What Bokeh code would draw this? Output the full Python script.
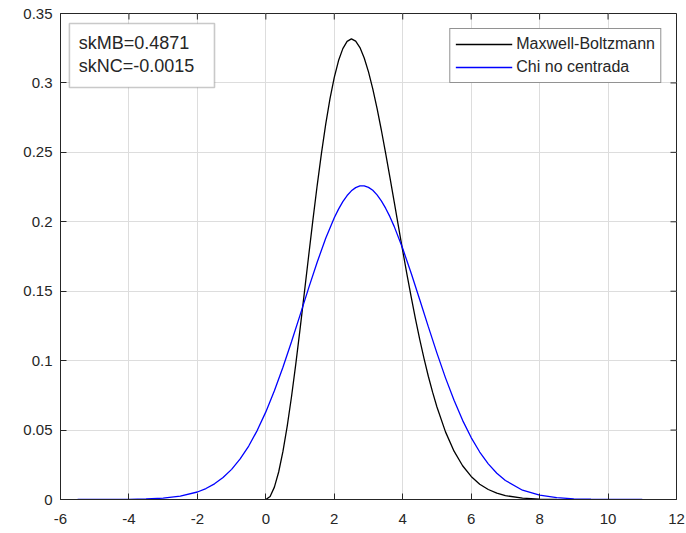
from bokeh.plotting import figure
from bokeh.models import (Range1d, FixedTicker, Legend, LegendItem, Label,
                          BoxAnnotation)
from bokeh.embed import file_html
from bokeh.resources import INLINE

# Maxwell-Boltzmann density
x_mb = [0, 0.125, 0.25, 0.375, 0.5, 0.625, 0.75, 0.875, 1.0, 1.125, 1.25,
        1.375, 1.5, 1.625, 1.75, 1.875, 2.0, 2.125, 2.25, 2.375, 2.5, 2.625,
        2.75, 2.875, 3.0, 3.125, 3.25, 3.375, 3.5, 3.625, 3.75, 3.875, 4.0,
        4.125, 4.25, 4.375, 4.5, 4.625, 4.75, 4.875, 5.0, 5.25, 5.5, 5.75,
        6.0, 6.25, 6.5, 6.75, 7.0, 7.5, 8.0, 8.5]
y_mb = [0.0, 0.0022, 0.0089, 0.0198, 0.0346, 0.0528, 0.0740, 0.0975, 0.1227,
        0.1488, 0.1752, 0.2012, 0.2261, 0.2493, 0.2703, 0.2887, 0.3040,
        0.3161, 0.3247, 0.3299, 0.3317, 0.3301, 0.3255, 0.3180, 0.3080,
        0.2957, 0.2816, 0.2661, 0.2495, 0.2322, 0.2145, 0.1967, 0.1791,
        0.1620, 0.1455, 0.1298, 0.1150, 0.1013, 0.0886, 0.0771, 0.0666,
        0.0487, 0.0348, 0.0243, 0.0166, 0.0110, 0.0072, 0.0046, 0.0028,
        0.0010, 0.0003, 0.0001]

# Non-centred chi density
x_chi = [-5.5, -5, -4.5, -4, -3.5, -3, -2.5, -2, -1.75, -1.5, -1.25, -1,
         -0.75, -0.5, -0.25, 0, 0.25, 0.5, 0.75, 1, 1.25, 1.5, 1.75, 2, 2.125,
         2.25, 2.375, 2.5, 2.625, 2.75, 2.875, 3, 3.125, 3.25, 3.375, 3.5,
         3.625, 3.75, 4, 4.25, 4.5, 4.75, 5, 5.25, 5.5, 5.75, 6, 6.25, 6.5,
         6.75, 7, 7.5, 8, 8.5, 9, 9.5, 10, 10.5, 11]
y_chi = [0.0, 0.00001, 0.00004, 0.00013, 0.00037, 0.00098, 0.0024, 0.0054,
         0.0079, 0.0113, 0.0158, 0.0217, 0.0292, 0.0385, 0.0498, 0.0631,
         0.0783, 0.0953, 0.1136, 0.1328, 0.1522, 0.1709, 0.1881, 0.2029,
         0.2091, 0.2145, 0.2189, 0.2223, 0.2246, 0.2258, 0.2259, 0.2248,
         0.2227, 0.2194, 0.2151, 0.2098, 0.2037, 0.1967, 0.1807, 0.1628,
         0.1437, 0.1243, 0.1054, 0.0876, 0.0714, 0.0570, 0.0446, 0.0342,
         0.0257, 0.0189, 0.0137, 0.0067, 0.0031, 0.0013, 0.0005, 0.0002,
         0.00006, 0.00002, 0.0]

series_names = ["Maxwell-Boltzmann", "Chi no centrada"]
skew_lines = ["skMB=0.4871", "skNC=-0.0015"]

x_ticks = [-6, -4, -2, 0, 2, 4, 6, 8, 10, 12]
y_ticks = [0, 0.05, 0.1, 0.15, 0.2, 0.25, 0.3, 0.35]
y_tick_labels = ["0", "0.05", "0.1", "0.15", "0.2", "0.25", "0.3", "0.35"]

FONT = "Liberation Sans"
AX = "#262626"
X0, X1, Y0, Y1 = -6, 12, 0, 0.35

p = figure(width=686, height=533, output_backend="svg", toolbar_location=None,
           x_range=Range1d(X0, X1), y_range=Range1d(Y0, Y1),
           min_border_left=60, min_border_right=10, min_border_top=13,
           min_border_bottom=34, background_fill_color="white",
           border_fill_color="white")
p.outline_line_color = AX
p.outline_line_width = 1

p.xaxis.ticker = FixedTicker(ticks=x_ticks)
p.yaxis.ticker = FixedTicker(ticks=y_ticks)
p.yaxis.major_label_overrides = {t: s for t, s in zip(y_ticks, y_tick_labels)}
p.xaxis.major_label_overrides = {t: str(t) for t in x_ticks}

for ax in (p.xaxis[0], p.yaxis[0]):
    ax.axis_line_color = AX
    ax.major_tick_line_color = AX
    ax.major_tick_in = 6
    ax.major_tick_out = 0
    ax.minor_tick_line_color = None
    ax.major_label_text_font = FONT
    ax.major_label_text_font_size = "15px"
    ax.major_label_text_color = AX
p.xaxis.major_label_standoff = 14
p.yaxis.major_label_standoff = 8

p.xgrid.ticker = FixedTicker(ticks=x_ticks)
p.ygrid.ticker = FixedTicker(ticks=y_ticks)
p.grid.grid_line_color = "#dddddd"
p.grid.grid_line_width = 1

# inward tick marks on the top and right edges of the box (6 px long)
px_per_x = 616 / (X1 - X0)
px_per_y = 486 / (Y1 - Y0)
p.segment(x0=x_ticks, y0=[Y1] * len(x_ticks), x1=x_ticks,
          y1=[Y1 - 6 / px_per_y] * len(x_ticks), line_color=AX, line_width=1)
p.segment(x0=[X1] * len(y_ticks), y0=y_ticks, x1=[X1 - 6 / px_per_x] * len(y_ticks),
          y1=y_ticks, line_color=AX, line_width=1)

r_mb = p.line(x_mb, y_mb, line_color="black", line_width=1.3)
r_chi = p.line(x_chi, y_chi, line_color="#0000ff", line_width=1.3)

legend = Legend(items=[LegendItem(label=series_names[0], renderers=[r_mb]),
                       LegendItem(label=series_names[1], renderers=[r_chi])],
                location="top_right", margin=15, padding=5, spacing=3,
                glyph_width=57, glyph_height=20, label_height=20,
                label_standoff=4, label_text_font=FONT,
                label_text_font_size="16px", label_text_color=AX,
                border_line_color=AX, border_line_width=1,
                background_fill_color="white", background_fill_alpha=1)
p.add_layout(legend, "center")

# skewness annotation box in the upper-left corner
p.add_layout(BoxAnnotation(left=-5.74, right=-1.5, top=0.3428, bottom=0.2967,
                           fill_color="white", fill_alpha=1,
                           line_color="#4d4d4d", line_width=1.6, level="overlay"))
for i, txt in enumerate(skew_lines):
    p.add_layout(Label(x=-5.47, y=0.3289 - i * 0.0170, text=txt,
                       text_font=FONT, text_font_size="18px", text_color=AX,
                       text_baseline="middle", text_align="left", level="overlay"))

open("out.html", "w").write(file_html(p, INLINE))
